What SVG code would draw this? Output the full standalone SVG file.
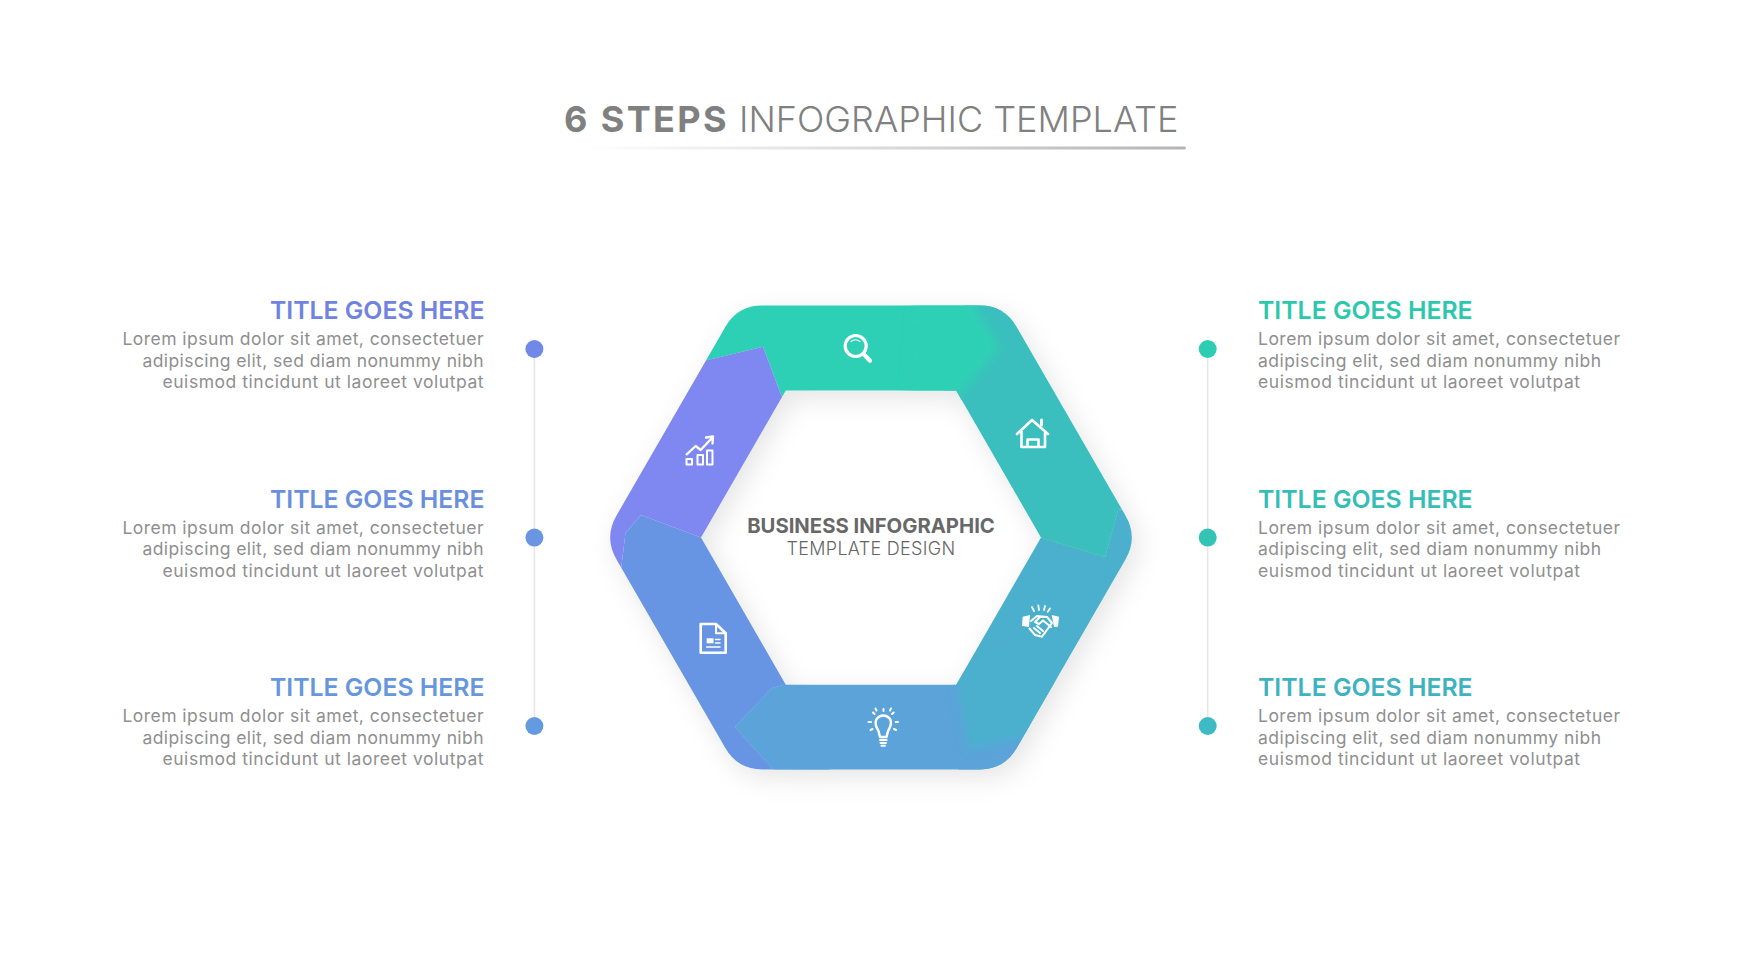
<svg xmlns="http://www.w3.org/2000/svg" width="1742" height="980" viewBox="0 0 1742 980">
<style>
text{font-family:"Inter","Liberation Sans",sans-serif}
.h{font-size:24.800px;font-weight:600}
.b{font-size:17.500px;fill:#8f8f8f}
.e{text-anchor:end}
.ic{fill:none;stroke:#fff;stroke-width:2.6;stroke-linecap:round;stroke-linejoin:round}
.f{fill:#fff;stroke:none}
.ln{stroke:#e7e7e7;stroke-width:1.6;fill:none}
</style>
<defs>
<linearGradient id="ul" x1="0" x2="1" y1="0" y2="0"><stop offset="0" stop-color="#b4b4b4" stop-opacity="0"/><stop offset="1" stop-color="#b4b4b4"/></linearGradient>
<clipPath id="ring"><path clip-rule="evenodd" d="M725.300 327Q737.700 305.600 762 305.600H980Q1004.300 305.600 1016.700 327L1125.200 515Q1138.500 537.600 1125.200 560L1016.700 748Q1004.300 769.400 980 769.400H762Q737.700 769.400 725.300 748L616.800 560Q603.500 537.600 616.800 515ZM785.800 390.500L701 537.600L785.800 684.700H956.200L1041 537.600L956.200 390.500Z"/></clipPath>
<filter id="sh" x="-20%" y="-20%" width="140%" height="140%"><feDropShadow dx="6" dy="8" stdDeviation="13" flood-color="#000" flood-opacity=".1"/></filter>
<filter id="s1" x="-40%" y="-40%" width="180%" height="180%"><feGaussianBlur stdDeviation="5"/></filter>
<filter id="s2" x="-30%" y="-30%" width="160%" height="160%"><feGaussianBlur stdDeviation="1.5"/></filter>
</defs>
<g id="heading">
<text x="564" y="132" font-size="36" fill="#808080"><tspan font-weight="700" letter-spacing="2.4">6 STEPS</tspan><tspan font-weight="300" dx="10">INFOGRAPHIC TEMPLATE</tspan></text>
<rect x="583" y="146.500" width="603" height="3" rx="1.500" fill="url(#ul)"/>
</g>
<g id="connectors">
<path class="ln" d="M534.400 349V726"/>
<path class="ln" d="M1207.700 349V726"/>
</g>
<g id="ring-shape" filter="url(#sh)"><g clip-path="url(#ring)">
<polygon fill="#2dd0b5" points="871,537.600 781.600,396 763,346.700 650,374 650,250 950,250 977,310 1000,348 957,390"/>
<polygon fill="#3bbfbe" points="871,537.600 957,390 1000,348 977,310 950,250 1200,250 1200,500 1118,510 1105,557 1041,537.600"/>
<polygon fill="#4cb0cd" points="871,537.600 1041,537.600 1105,557 1118,510 1200,500 1200,700 1100,718 968,750 956,684.500"/>
<polygon fill="#5ba3da" points="871,537.600 956,684.500 968,750 1100,718 1200,700 1200,850 800,850 774,770 735,727 772,688 785,684.500"/>
<polygon fill="#6895e3" points="871,537.600 785,684.500 772,688 735,727 774,770 800,850 500,850 500,620 620,578 625.500,533 641,515 701,537.600"/>
<polygon fill="#7f88f0" points="871,537.600 701,537.600 641,515 625.500,533 620,578 500,620 500,250 650,250 650,374 707.600,360 763,346.700 781.600,396"/>
<polygon fill="#3bbfbe" points="943,392 986,348 961,298 990,285 1020,350 965,402"/>
<polygon fill="#2dd0b5" filter="url(#s1)" points="957,398 1000,348 977,310 955,270 915,280 905,398"/>
<polygon fill="#5ba3da" points="970,678 982,736 1028,722 1045,765 960,780 945,690"/>
<polygon fill="#4cb0cd" filter="url(#s1)" points="956,678 968,750 1040,733 1060,680 1000,650"/>
<polygon fill="#3bbfbe" filter="url(#s2)" points="1041,537.600 1105,557 1118,510 1080,490 1030,500"/>
<polygon fill="#5ba3da" filter="url(#s2)" points="785,684.500 772,688 735,727 774,770 830,775 830,690"/>
</g></g>
<g id="step-search" class="ic"><circle cx="855.700" cy="346" r="10.500" stroke-width="3.200"/><path d="M864 354.500L870 360.700" stroke-width="4.200"/><path d="M851 341.500Q855.500 338 860 341.500" stroke-width="1.200"/></g>
<g id="step-home" class="ic"><path d="M1017 434L1032 420L1048 434M1021.500 431V447H1045V431M1027.500 447V439.500H1038.500V447"/><path d="M1041.500 420V425" stroke-width="3"/></g>
<g id="step-handshake" class="ic" stroke-width="2"><polygon class="f" points="1022.700,616.700 1030,615 1029,627 1022,626"/><polygon class="f" points="1051.700,615 1059,616.700 1058,626.700 1054,627"/><path stroke-width="2" d="M1031 621L1037 616L1047 617L1052 623L1042 636.700L1035 635L1029.500 628.500M1047 617L1040 617L1035 622L1039 624L1043 620.500L1051 627M1034 628L1040 633M1037 626L1043 631"/><path stroke-width="1.800" d="M1032 607L1034 611M1038.300 605.500L1039 610M1045 606L1044 610M1050 608.500L1047.700 611.700"/></g>
<g id="step-idea" class="ic"><path stroke-width="2.400" d="M880 737Q879 731 876.500 727Q874.500 722 877 718.500Q879.500 715.500 883.300 715.500Q887 715.500 889.700 718.500Q892 722 890 727Q887.500 731 886.500 737Z"/><path stroke-width="2" d="M880 740H886.600M880.500 743H886M881.500 745.800H885"/><path stroke-width="2" d="M883.500 709V711M873 712.500L874.500 714M893.700 712.500L892 714M868.500 722H871M895.700 722H898M870.500 730L872.500 729M896 730L894 729M875.500 708.500L876.500 710.500M891 708.500L890 710.500"/></g>
<g id="step-document" class="ic"><path d="M700.700 624H716L725.700 633.300V652.700H700.700Z"/><path stroke-width="2" d="M716 624V633.300H725.700"/><rect class="f" x="706.700" y="638.300" width="6.800" height="5"/><path stroke-width="1.500" d="M715.500 639.500H720M715.500 643H720M706.700 647H720"/></g>
<g id="step-chart" class="ic"><rect x="686.500" y="459" width="5.500" height="5.500" stroke-width="2"/><rect x="697.500" y="455" width="5.500" height="9.500" stroke-width="2"/><rect x="707" y="450.500" width="5.500" height="14" stroke-width="2"/><path stroke-width="2.300" d="M686.700 454.300L695.700 446L700.700 450L712 438M706 437.500L713 436.500L712.500 443.500"/></g>
<g id="center-label" fill="#666" text-anchor="middle"><text x="871" y="533" font-size="20.300" font-weight="700" fill="#686868">BUSINESS INFOGRAPHIC</text><text x="871" y="554.500" font-size="18" font-weight="300" letter-spacing=".3" fill="#666">TEMPLATE DESIGN</text></g>
<g id="left-1"><text class="h e" x="484.500" y="319" fill="#7083e0">TITLE GOES HERE</text><text class="b e" x="483.500" y="345" textLength="361">Lorem ipsum dolor sit amet, consectetuer</text><text class="b e" x="483.500" y="366.500" textLength="341">adipiscing elit, sed diam nonummy nibh</text><text class="b e" x="483.500" y="388" textLength="321">euismod tincidunt ut laoreet volutpat</text><circle cx="534.400" cy="349" r="9" fill="#7088e8"/></g>
<g id="left-2"><text class="h e" x="484.500" y="507.500" fill="#6a8fdf">TITLE GOES HERE</text><text class="b e" x="483.500" y="533.500" textLength="361">Lorem ipsum dolor sit amet, consectetuer</text><text class="b e" x="483.500" y="555" textLength="341">adipiscing elit, sed diam nonummy nibh</text><text class="b e" x="483.500" y="576.500" textLength="321">euismod tincidunt ut laoreet volutpat</text><circle cx="534.400" cy="537.600" r="9" fill="#6a95e2"/></g>
<g id="left-3"><text class="h e" x="484.500" y="696" fill="#6696dc">TITLE GOES HERE</text><text class="b e" x="483.500" y="722" textLength="361">Lorem ipsum dolor sit amet, consectetuer</text><text class="b e" x="483.500" y="743.500" textLength="341">adipiscing elit, sed diam nonummy nibh</text><text class="b e" x="483.500" y="765" textLength="321">euismod tincidunt ut laoreet volutpat</text><circle cx="534.400" cy="726" r="9" fill="#639ae0"/></g>
<g id="right-1"><text class="h" x="1258" y="319" fill="#2cc8ae">TITLE GOES HERE</text><text class="b" x="1258" y="345" textLength="362">Lorem ipsum dolor sit amet, consectetuer</text><text class="b" x="1258" y="366.500" textLength="343">adipiscing elit, sed diam nonummy nibh</text><text class="b" x="1258" y="388" textLength="322">euismod tincidunt ut laoreet volutpat</text><circle cx="1207.700" cy="349" r="9" fill="#2dcdb3"/></g>
<g id="right-2"><text class="h" x="1258" y="507.500" fill="#35bdb8">TITLE GOES HERE</text><text class="b" x="1258" y="533.500" textLength="362">Lorem ipsum dolor sit amet, consectetuer</text><text class="b" x="1258" y="555" textLength="343">adipiscing elit, sed diam nonummy nibh</text><text class="b" x="1258" y="576.500" textLength="322">euismod tincidunt ut laoreet volutpat</text><circle cx="1207.700" cy="537.600" r="9" fill="#33c4b6"/></g>
<g id="right-3"><text class="h" x="1258" y="696" fill="#3eb2bf">TITLE GOES HERE</text><text class="b" x="1258" y="722" textLength="362">Lorem ipsum dolor sit amet, consectetuer</text><text class="b" x="1258" y="743.500" textLength="343">adipiscing elit, sed diam nonummy nibh</text><text class="b" x="1258" y="765" textLength="322">euismod tincidunt ut laoreet volutpat</text><circle cx="1207.700" cy="726" r="9" fill="#3ebac4"/></g>
</svg>
